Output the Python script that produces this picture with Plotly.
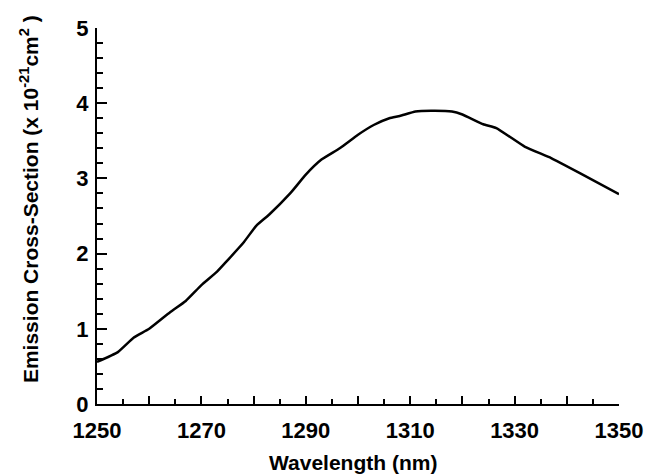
import plotly.graph_objects as go

wavelength = [1250, 1254, 1257, 1260, 1264, 1267, 1270, 1273, 1275, 1278, 1280.5, 1283,
              1287, 1290, 1293, 1296.5, 1300, 1303, 1306, 1308, 1311, 1314, 1318, 1320,
              1324, 1326.5, 1332, 1337, 1342.5, 1350]
cross_section = [0.56, 0.69, 0.88, 1.00, 1.22, 1.37, 1.58, 1.76, 1.91, 2.14, 2.37, 2.52,
                 2.80, 3.05, 3.25, 3.40, 3.58, 3.71, 3.80, 3.83, 3.89, 3.90, 3.89, 3.85,
                 3.72, 3.67, 3.42, 3.27, 3.07, 2.79]

x_tickvals = [1250, 1260, 1270, 1280, 1290, 1300, 1310, 1320, 1330, 1340, 1350]
x_ticktext = ["1250", "", "1270", "", "1290", "", "1310", "", "1330", "", "1350"]
y_tickvals = [0, 1, 2, 3, 4, 5]
y_ticktext = ["0", "1", "2", "3", "4", "5"]

x_title = "<b>Wavelength (nm)</b>"
y_title = "<b>Emission Cross-Section (x 10<sup>-21</sup>cm<sup>2</sup> )</b>"

font_family = "Liberation Sans, Arial, Helvetica, sans-serif"

fig = go.Figure()
fig.add_trace(go.Scatter(
    x=wavelength, y=cross_section, mode="lines",
    line=dict(color="black", width=2.5, shape="spline", smoothing=0.4),
    showlegend=False, hoverinfo="skip",
))

fig.update_layout(
    width=649, height=474,
    margin=dict(l=97, r=30, t=28, b=70, autoexpand=False),
    paper_bgcolor="white", plot_bgcolor="white",
    font=dict(family=font_family, color="black"),
    xaxis=dict(
        range=[1250, 1350], showgrid=False, zeroline=False,
        showline=True, linecolor="black", linewidth=2,
        tickmode="array", tickvals=x_tickvals, ticktext=x_ticktext,
        ticks="inside", ticklen=8, tickwidth=1.5, tickcolor="black",
        minor=dict(dtick=5, ticks="inside", ticklen=5, tickwidth=1.5, tickcolor="black", showgrid=False),
        tickfont=dict(size=22, family=font_family, weight="bold"),
        ticklabelstandoff=6,
    ),
    yaxis=dict(
        range=[0, 5], showgrid=False, zeroline=False,
        showline=True, linecolor="black", linewidth=2,
        tickmode="array", tickvals=y_tickvals, ticktext=y_ticktext,
        ticks="inside", ticklen=10, tickwidth=1.5, tickcolor="black",
        minor=dict(dtick=0.2, ticks="inside", ticklen=6, tickwidth=1.5, tickcolor="black", showgrid=False),
        tickfont=dict(size=22, family=font_family, weight="bold"),
        ticklabelstandoff=2,
    ),
    annotations=[
        dict(text=x_title, xref="paper", yref="paper", x=0.49, y=0, yshift=-58,
             xanchor="center", yanchor="middle", showarrow=False,
             font=dict(size=21, family=font_family)),
        dict(text=y_title, xref="paper", yref="paper", x=0, xshift=-68, y=0.545,
             xanchor="center", yanchor="middle", textangle=-90, showarrow=False,
             font=dict(size=21, family=font_family)),
    ],
)

fig.write_html("out.html", config={"displayModeBar": False})

# remove the browser's default page margin so the figure fills the window exactly
with open("out.html", "r", encoding="utf-8") as f:
    html = f.read()
html = html.replace("<head>", "<head><style>html,body{margin:0;padding:0;overflow:hidden}</style>", 1)
with open("out.html", "w", encoding="utf-8") as f:
    f.write(html)
